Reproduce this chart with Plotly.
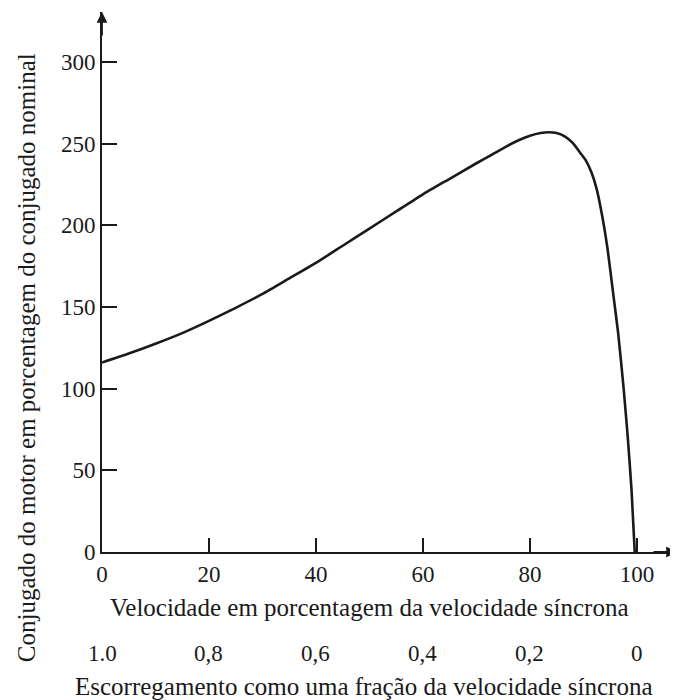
import plotly.graph_objects as go

# Data
speed_pct = [0, 5, 10, 15, 20, 25, 30, 35, 40, 45, 50, 55, 60, 65, 70, 73, 76, 78, 80, 82, 83.5, 85,
             86.5, 88, 89.5, 90.5, 91.5, 92.5, 93.5, 94.5, 95.5, 96.5, 97.5, 98.3, 99, 99.6]
torque_pct = [116, 121.5, 127.5, 134, 141.5, 149.5, 158, 167.5, 177, 187.5, 198, 208.5, 219, 228.5, 238, 243.5, 249, 252.2, 254.8, 256.5, 257, 256.5,
              254.5, 250.5, 244, 239.5, 232.5, 222, 206, 186, 160, 134, 101, 70, 38, 0]

x_ticks = [0, 20, 40, 60, 80, 100]
x_tick_labels = ["0", "20", "40", "60", "80", "100"]
y_ticks = [0, 50, 100, 150, 200, 250, 300]
y_tick_labels = ["0", "50", "100", "150", "200", "250", "300"]
slip_positions = [0, 20, 40, 60, 80, 100]
slip_labels = ["1.0", "0,8", "0,6", "0,4", "0,2", "0"]

FONT = "Liberation Serif"
INK = "#1a1a1a"
TICK_SIZE = 23
TITLE_SIZE = 25

fig = go.Figure()
fig.add_trace(go.Scatter(
    x=speed_pct, y=torque_pct, mode="lines",
    line=dict(color=INK, width=2.6, shape="spline", smoothing=0.5),
    hoverinfo="skip", showlegend=False,
))

fig.update_layout(
    width=670, height=692,
    margin=dict(l=94, r=1, t=4, b=148),
    paper_bgcolor="white", plot_bgcolor="white",
    font=dict(family=FONT, size=TICK_SIZE, color=INK),
    xaxis=dict(range=[0, 107.5], tickvals=x_ticks, ticktext=x_tick_labels,
               showgrid=False, zeroline=False, showline=True, linecolor=INK, linewidth=2,
               ticks="inside", ticklen=14, tickwidth=1.5, tickcolor=INK,
               tickfont=dict(family=FONT, size=TICK_SIZE, color=INK)),
    yaxis=dict(range=[0, 330.6], tickvals=y_ticks, ticktext=y_tick_labels,
               showgrid=False, zeroline=False, showline=True, linecolor=INK, linewidth=2,
               ticks="inside", ticklen=15, tickwidth=1.5, tickcolor=INK,
               tickfont=dict(family=FONT, size=TICK_SIZE, color=INK)),
)

# arrow heads on axes
fig.add_annotation(x=107.5, y=0, xref="x", yref="y", ax=-25, ay=0, axref="pixel", ayref="pixel",
                   showarrow=True, arrowhead=2, arrowsize=1.2, arrowwidth=1.8, arrowcolor=INK, text="")
fig.add_annotation(x=0, y=330.6, xref="x", yref="y", ax=0, ay=25, axref="pixel", ayref="pixel",
                   showarrow=True, arrowhead=2, arrowsize=1.2, arrowwidth=1.8, arrowcolor=INK, text="")

# axis titles
fig.add_annotation(x=50, y=0, xref="x", yref="paper", yshift=-55, yanchor="middle", showarrow=False,
                   text="Velocidade em porcentagem da velocidade síncrona",
                   font=dict(family=FONT, size=TITLE_SIZE, color=INK))
for xp, lab in zip(slip_positions, slip_labels):
    fig.add_annotation(x=xp, y=0, xref="x", yref="paper", yshift=-101, yanchor="middle", showarrow=False,
                       text=lab, font=dict(family=FONT, size=TICK_SIZE, color=INK))
fig.add_annotation(x=49, y=0, xref="x", yref="paper", yshift=-134, yanchor="middle", showarrow=False,
                   text="Escorregamento como uma fração da velocidade síncrona",
                   font=dict(family=FONT, size=TITLE_SIZE, color=INK))
fig.add_annotation(x=0, y=0.359, xref="paper", yref="paper", xshift=-76, xanchor="center", yanchor="middle",
                   showarrow=False, textangle=-90,
                   text="Conjugado do motor em porcentagem do conjugado nominal",
                   font=dict(family=FONT, size=TITLE_SIZE, color=INK))

fig.write_html("out.html")
